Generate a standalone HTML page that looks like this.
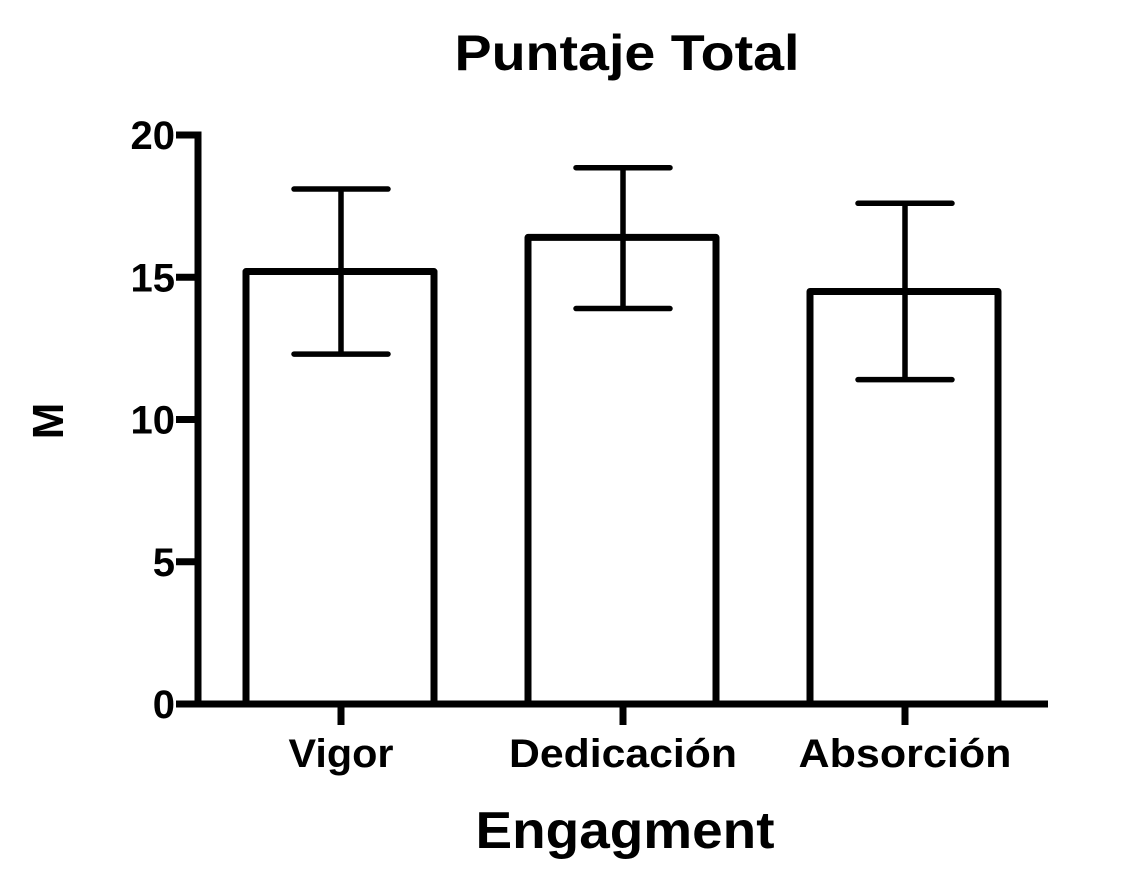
<!DOCTYPE html>
<html><head><meta charset="utf-8">
<style>
html,body{margin:0;padding:0;background:#fff;}
svg text{font-family:"Liberation Sans",Arial,sans-serif;font-weight:bold;fill:#000;}
</style></head>
<body>
<svg width="1144" height="874" viewBox="0 0 1144 874" xmlns="http://www.w3.org/2000/svg">
<g id="g"></g>
</svg>
<script>
const categories = ["Vigor","Dedicación","Absorción"];
const means = [15.2, 16.4, 14.5];
const errUpper = [18.1, 18.85, 17.6];
const errLower = [12.3, 13.9, 11.4];
const yTicks = [0,5,10,15,20];
const labelWidths = [105, 228, 213];

const ns="http://www.w3.org/2000/svg";
const g=document.getElementById('g');
const y0=704, pxPerUnit=(704-135)/20;
const yS=v=>y0-v*pxPerUnit;
const xS=i=>341+i*282;
function el(t,a){const e=document.createElementNS(ns,t);for(const k in a)e.setAttribute(k,a[k]);g.appendChild(e);return e;}

let t=el('text',{x:627,y:70,'font-size':50,'text-anchor':'middle',textLength:345,lengthAdjust:'spacingAndGlyphs'});t.textContent='Puntaje Total';


categories.forEach((c,i)=>{
  const cx=xS(i);
  const r=el('path',{d:`M${cx-95},${y0} V${yS(means[i])} H${cx+93} V${y0}`,fill:'#fff',stroke:'#000','stroke-width':7,'stroke-linejoin':'round'});
  
  
  const e=el('path',{d:`M${cx},${yS(errUpper[i])} V${yS(errLower[i])} M${cx-47},${yS(errUpper[i])} H${cx+47} M${cx-47},${yS(errLower[i])} H${cx+47}`,stroke:'#000','stroke-width':5.5,'stroke-linecap':'round',fill:'none'});
  
  
  const tk=el('line',{x1:cx,y1:y0,x2:cx,y2:725,stroke:'#000','stroke-width':7});
  
  
  const lb=el('text',{x:cx,y:767,'font-size':40,'text-anchor':'middle',textLength:labelWidths[i],lengthAdjust:'spacingAndGlyphs'});lb.textContent=c;
  
  
});
const ya=el('path',{d:`M176,${yS(20)} H198 V${y0}`,stroke:'#000','stroke-width':7,fill:'none'});


const xa=el('line',{x1:176,y1:y0,x2:1048,y2:y0,stroke:'#000','stroke-width':7});


yTicks.forEach(v=>{
  const l=el('line',{x1:176,y1:yS(v),x2:198,y2:yS(v),stroke:'#000','stroke-width':7});
  
  
  const tx=el('text',{x:175,y:yS(v)+14,'font-size':40,'text-anchor':'end'});tx.textContent=v;
  
  
});
const yt=el('text',{x:0,y:0,'font-size':44,'text-anchor':'middle',transform:'translate(63,421) rotate(-90)'});yt.textContent='M';


const xt=el('text',{x:625,y:848,'font-size':52,'text-anchor':'middle',textLength:299,lengthAdjust:'spacingAndGlyphs'});xt.textContent='Engagment';


</script>
</body></html>
